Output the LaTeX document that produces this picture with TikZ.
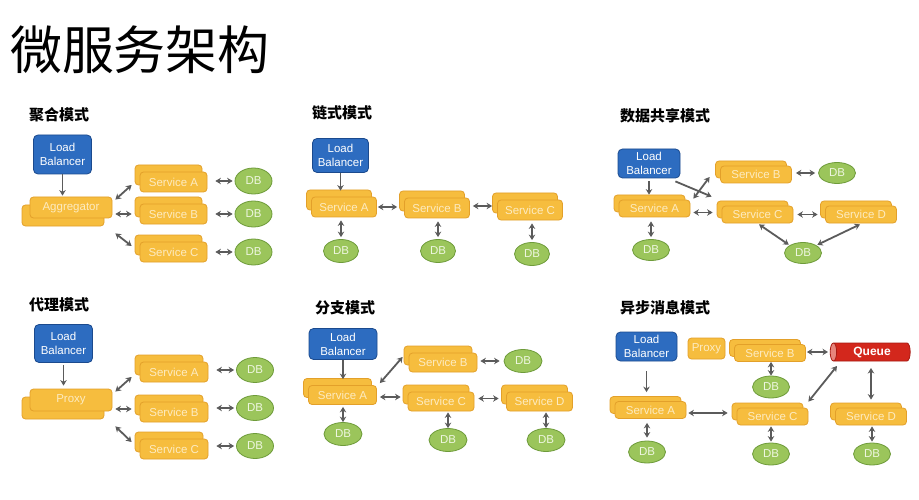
\documentclass[tikz,border=0pt]{standalone}
\usepackage{fontspec}
\setmainfont{Liberation Sans}
\newfontfamily\cjk{Noto Sans CJK SC}
\usetikzlibrary{shapes.geometric,shadows,arrows.meta,calc}
\definecolor{svf}{HTML}{F6BD3E}
\definecolor{svb}{HTML}{E3A02A}
\definecolor{svt}{HTML}{FDEBC0}
\definecolor{dbf}{HTML}{9BC55B}
\definecolor{dbb}{HTML}{6E9B3A}
\definecolor{dbt}{HTML}{EEF6E0}
\definecolor{lbf}{HTML}{2D6CC0}
\definecolor{lbb}{HTML}{1B4A8E}
\definecolor{arrc}{HTML}{5B5B5B}
\definecolor{qf}{HTML}{D3271C}
\definecolor{qb}{HTML}{A81A12}
\definecolor{qe}{HTML}{E7857C}
\begin{document}
\begin{tikzpicture}[x=1pt,y=-1pt,
  box/.style={rounded corners=3.5pt, line width=0.8pt, inner sep=0pt, font=\fontsize{11.5}{14}\selectfont},
  lbox/.style={box, draw=lbb, fill=lbf, text=white, align=center, rounded corners=4.5pt},
  svcbase/.style={box, draw=svb, fill=svf, text=svt},
  svc/.style={svcbase, minimum width=67pt, minimum height=20pt, copy shadow={shadow xshift=-5pt, shadow yshift=7pt, draw=svb, fill=svf}},
  svcs/.style={svcbase, minimum width=71pt, minimum height=17pt, copy shadow={shadow xshift=-5pt, shadow yshift=5pt, draw=svb, fill=svf}},
  aggbox/.style={svcbase, minimum width=82pt, minimum height=21pt, copy shadow={shadow xshift=-8pt, shadow yshift=-8pt, draw=svb, fill=svf}},
  db/.style={ellipse, draw=dbb, fill=dbf, text=dbt, line width=0.8pt, inner sep=0pt, minimum width=37pt, minimum height=24pt, font=\fontsize{11.5}{14}\selectfont},
  conn/.style={draw=arrc, line width=1.8pt, {Stealth[length=5.5pt,width=6.5pt]}-{Stealth[length=5.5pt,width=6.5pt]}},
  conn1/.style={draw=arrc, line width=1.8pt, -{Stealth[length=5.5pt,width=6.5pt]}},
  ptitle/.style={font=\cjk\bfseries\fontsize{15}{18}\selectfont, inner sep=0pt}
]
\useasboundingbox[fill=white] (0,0) rectangle (919,500);
\node[font=\cjk\fontsize{52}{60}\selectfont, inner sep=0pt] (title) at (140,50) {微服务架构};

% ---------- panel 1
\node[ptitle] (t1) at (59,115) {聚合模式};
\node[lbox, minimum width=58pt, minimum height=39pt] (lb1) at (62.5,154.5) {Load\\Balancer};
\node[aggbox] (ag1) at (71,207.5) {Aggregator};
\node[svc] (s1a) at (173.5,182) {Service A};
\node[svc] (s1b) at (173.5,214) {Service B};
\node[svc] (s1c) at (173.5,252) {Service C};
\node[db, minimum height=26pt] (d1a) at (253.5,181) {DB};
\node[db, minimum height=26pt] (d1b) at (253.5,214) {DB};
\node[db, minimum height=26pt] (d1c) at (253.5,252) {DB};
\draw[conn1, shorten >=1pt] (lb1.south) -- (lb1.south |- ag1.north);
\draw[conn] ($(ag1.north east)+(3,3)$) -- ($(s1a.west)+(-8,3)$);
\draw[conn] ($(ag1.east |- s1b.west)+(3,0)$) -- ($(s1b.west)+(-8,0)$);
\draw[conn] ($(ag1.south east)+(3,15)$) -- ($(s1c.west)+(-8,-6)$);
\draw[conn] ($(d1a.west)+(-2,0)$) -- ($(d1a.west -| s1a.east)+(8,0)$);
\draw[conn] ($(d1b.west)+(-2,0)$) -- ($(d1b.west -| s1b.east)+(8,0)$);
\draw[conn] ($(d1c.west)+(-2,0)$) -- ($(d1c.west -| s1c.east)+(8,0)$);

% ---------- panel 2
\node[ptitle] (t2) at (342,113) {链式模式};
\node[lbox, minimum width=56pt, minimum height=34pt] (lb2) at (340.5,155.5) {Load\\Balancer};
\node[svc, minimum width=65pt] (s2a) at (344,207) {Service A};
\node[svc, minimum width=65pt] (s2b) at (437,208) {Service B};
\node[svc, minimum width=65pt] (s2c) at (530,210) {Service C};
\node[db, minimum width=35pt, minimum height=23pt] (d2a) at (341,251) {DB};
\node[db, minimum width=35pt, minimum height=23pt] (d2b) at (438,251) {DB};
\node[db, minimum width=35pt, minimum height=23pt] (d2c) at (532,254) {DB};
\draw[conn1, shorten >=6pt] (lb2.south) -- (lb2.south |- s2a.north);
\draw[conn] ($(s2a.east)+(1,0)$) -- ($(s2a.east -| s2b.west)+(-7,0)$);
\draw[conn] ($(s2b.east)+(3,-2)$) -- ($(s2b.east -| s2c.west)+(-5,-2)$);
\draw[conn] ($(d2a.north)+(0,-2)$) -- ($(d2a.north |- s2a.south)+(0,3)$);
\draw[conn] ($(d2b.north)+(0,-2)$) -- ($(d2b.north |- s2b.south)+(0,3)$);
\draw[conn] ($(d2c.north)+(0,-2)$) -- ($(d2c.north |- s2c.south)+(0,3)$);

% ---------- panel 3
\node[ptitle] (t3) at (665,116) {数据共享模式};
\node[lbox, minimum width=62pt, minimum height=29pt] (lb3) at (649,163.5) {Load\\Balancer};
\node[svcs] (s3a) at (654.5,208.5) {Service A};
\node[svcs] (s3b) at (756,174.5) {Service B};
\node[svcs] (s3c) at (757.5,214.5) {Service C};
\node[svcs] (s3d) at (861,214.5) {Service D};
\node[db, minimum height=21pt] (d3b) at (837,173) {DB};
\node[db, minimum height=21pt] (d3a) at (651,250) {DB};
\node[db, minimum height=21pt] (d3s) at (803,253) {DB};
\draw[conn1, shorten <=3pt, shorten >=5pt] (lb3.south) -- (lb3.south |- s3a.north);
\draw[conn] ($(d3a.north)+(0,-2)$) -- ($(d3a.north |- s3a.south)+(0,4)$);
\draw[conn] ($(d3b.west)+(-3,0)$) -- ($(d3b.west -| s3b.east)+(4,0)$);
\draw[conn] ($(s3a.east)+(3,4)$) -- ($(s3a.east -| s3c.west)+(-9,4)$);
\draw[conn] ($(s3c.east)+(4,0)$) -- ($(s3c.east -| s3d.west)+(-7.5,0)$);
\draw[conn1] ($(lb3.south east)+(-5,3)$) -- ($(s3c.north west)+(-10,-9)$);
\draw[conn] ($(s3a.north east)+(3,-1)$) -- ($(s3b.west)+(-10.5,2.5)$);
\draw[conn, shorten >=1pt] ($(s3c.south)+(1.5,1)$) -- (d3s.150);
\draw[conn, shorten >=1pt] ($(s3d.south)+(-1,1)$) -- (d3s.30);

% ---------- panel 4
\node[ptitle] (t4) at (59,305) {代理模式};
\node[lbox, minimum width=58pt, minimum height=38pt] (lb4) at (63.5,343.5) {Load\\Balancer};
\node[aggbox, minimum height=22pt] (px4) at (71,400) {Proxy};
\node[svc, minimum width=68pt] (s4a) at (174,372) {Service A};
\node[svc, minimum width=68pt] (s4b) at (174,412) {Service B};
\node[svc, minimum width=68pt] (s4c) at (174,449) {Service C};
\node[db, minimum height=25pt] (d4a) at (255,370) {DB};
\node[db, minimum height=25pt] (d4b) at (255,408) {DB};
\node[db, minimum height=25pt] (d4c) at (255,446) {DB};
\draw[conn1, shorten <=2pt, shorten >=3pt] (lb4.south) -- (lb4.south |- px4.north);
\draw[conn] ($(px4.north east)+(3,3)$) -- ($(s4a.west)+(-8,5)$);
\draw[conn] ($(px4.east |- s4b.west)+(3,-3)$) -- ($(s4b.west)+(-8,-3)$);
\draw[conn] ($(px4.south east)+(3,15)$) -- ($(s4c.west)+(-8,-7)$);
\draw[conn] ($(d4a.west)+(-2,0)$) -- ($(d4a.west -| s4a.east)+(8,0)$);
\draw[conn] ($(d4b.west)+(-2,0)$) -- ($(d4b.west -| s4b.east)+(8,0)$);
\draw[conn] ($(d4c.west)+(-2,0)$) -- ($(d4c.west -| s4c.east)+(8,0)$);

% ---------- panel 5
\node[ptitle] (t5) at (345,308) {分支模式};
\node[lbox, minimum width=68pt, minimum height=31pt] (lb5) at (343,344) {Load\\Balancer};
\node[svc, minimum width=68pt, minimum height=19pt] (s5a) at (342.5,395) {Service A};
\node[svc, minimum width=68pt, minimum height=19pt] (s5b) at (443,362.5) {Service B};
\node[svc, minimum width=66pt, minimum height=19pt] (s5c) at (441,401.5) {Service C};
\node[svc, minimum width=66pt, minimum height=19pt] (s5d) at (539.5,401.5) {Service D};
\node[db, minimum width=38pt, minimum height=23pt] (d5b) at (523,361) {DB};
\node[db, minimum width=38pt, minimum height=23pt] (d5a) at (343,434) {DB};
\node[db, minimum width=38pt, minimum height=23pt] (d5c) at (448,440) {DB};
\node[db, minimum width=38pt, minimum height=23pt] (d5d) at (546,440) {DB};
\draw[conn1, shorten >=6pt] (lb5.south) -- (lb5.south |- s5a.north);
\draw[conn] ($(s5a.north east)+(3,-2)$) -- ($(s5b.west)+(-6,-5.5)$);
\draw[conn] ($(s5a.east)+(3,2)$) -- ($(s5a.east -| s5c.west)+(-7,2)$);
\draw[conn] ($(d5b.west)+(-4,0)$) -- ($(d5b.west -| s5b.east)+(3,0)$);
\draw[conn] ($(s5c.east)+(4,-3)$) -- ($(s5c.east -| s5d.west)+(-7.5,-3)$);
\draw[conn] (d5a.north) -- ($(d5a.north |- s5a.south)+(0,2)$);
\draw[conn] (d5c.north) -- ($(d5c.north |- s5c.south)+(0,1)$);
\draw[conn] (d5d.north) -- ($(d5d.north |- s5d.south)+(0,1)$);

% ---------- panel 6
\node[ptitle] (t6) at (665,308) {异步消息模式};
\node[lbox, minimum width=61pt, minimum height=29pt] (lb6) at (646.5,346.5) {Load\\Balancer};
\node[svcbase, minimum width=37pt, minimum height=21pt] (px6) at (706.5,348.5) {Proxy};
\node[svcs] (s6b) at (770,353) {Service B};
\node[cylinder, shape border rotate=180, draw=qb, line width=0.8pt, cylinder uses custom fill, cylinder body fill=qf, cylinder end fill=qe, minimum width=18pt, minimum height=80pt, aspect=0.6, inner sep=0pt, text=white, font=\bfseries\fontsize{12}{14}\selectfont] (q6) at (872,352) {Queue};
\node[db, minimum height=22pt] (d6b) at (771,387) {DB};
\node[svcs] (s6a) at (650.5,410) {Service A};
\node[svcs] (s6c) at (772.5,416.5) {Service C};
\node[svcs] (s6d) at (871,416.5) {Service D};
\node[db, minimum height=22pt] (d6a) at (647,452) {DB};
\node[db, minimum height=22pt] (d6c) at (771,454) {DB};
\node[db, minimum height=22pt] (d6d) at (872,454) {DB};
\draw[conn1, shorten <=10pt, shorten >=9pt] (lb6.south) -- (lb6.south |- s6a.north);
\draw[conn] ($(s6a.east)+(2,3)$) -- ($(s6a.east -| s6c.west)+(-9,3)$);
\draw[conn] ($(s6b.east)+(1,-1)$) -- ($(q6.center)+(-44,0)$);
\draw[conn] ($(s6c.north east)+(0,-6)$) -- ($(q6.center)+(-35,14)$);
\draw[conn] ($(q6.center)+(-1,16)$) -- ($(s6d.north)+(0,-8)$);
\draw[conn] (d6b.north) -- (d6b.north |- s6b.south);
\draw[conn] ($(d6a.north)+(0,-3)$) -- ($(d6a.north |- s6a.south)+(0,4)$);
\draw[conn] ($(d6c.north)+(0,-1)$) -- ($(d6c.north |- s6c.south)+(0,1)$);
\draw[conn] ($(d6d.north)+(0,-1)$) -- ($(d6d.north |- s6d.south)+(0,1)$);
\end{tikzpicture}
\end{document}
